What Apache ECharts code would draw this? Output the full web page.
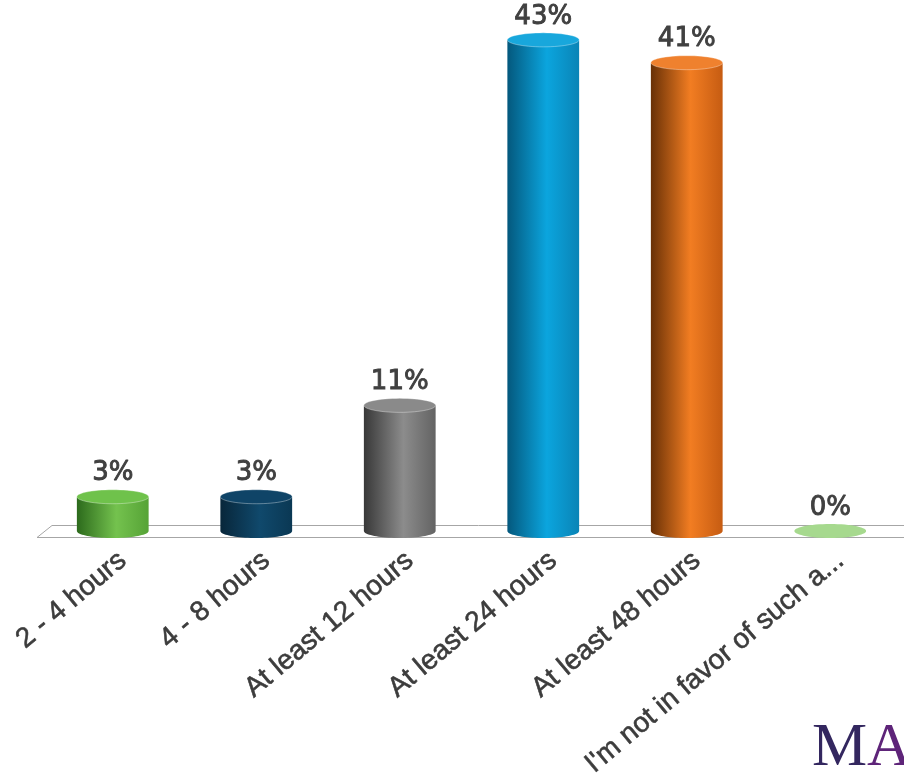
<!DOCTYPE html>
<html>
<head>
<meta charset="utf-8">
<script src="https://cdn.jsdelivr.net/npm/echarts@6/dist/echarts.min.js"></script>
<style>
  html, body { margin: 0; padding: 0; background: #fff; }
  #chart { width: 904px; height: 774px; }
</style>
</head>
<body>
<div id="chart"></div>
<script>
// Survey answers and their shares (percent)
const categories = ['2 - 4 hours', '4 - 8 hours', 'At least 12 hours', 'At least 24 hours', 'At least 48 hours', "I'm not in favor of such a..."];
const shares = [3, 3, 11, 43, 41, 0];

// Cylinder palettes: [dark edge, highlight, right shade, top cap]
const palettes = [
  ['#2c6a1c', '#74c24e', '#56a336', '#6fc24b'],
  ['#08263a', '#10496c', '#0a3854', '#0f4467'],
  ['#383838', '#8c8c8c', '#636363', '#8a8a8a'],
  ['#04587d', '#0ba5de', '#0a84b6', '#18a7dc'],
  ['#683006', '#f27d22', '#c65c12', '#ef812e'],
  ['#9fd487', '#a9da92', '#9fd487', '#a6d98e']
];

const LABEL_ANGLE = 40 * Math.PI / 180;

function ellipsePoints(cx, cy, rx, ry, from, to, n) {
  const pts = [];
  for (let i = 0; i <= n; i++) {
    const a = from + (to - from) * i / n;
    pts.push([cx + rx * Math.cos(a), cy + ry * Math.sin(a)]);
  }
  return pts;
}

function renderCylinder(params, api) {
  const idx = api.value(0);
  const val = api.value(1);
  const basePt = api.coord([idx, 0]);
  const topPt = api.coord([idx, val]);
  const cx = basePt[0];
  const base = basePt[1];
  const top = topPt[1];
  const w = api.size([1, 0])[0] * 0.5;
  const rx = w / 2;
  const ry = 7;
  const p = palettes[params.dataIndex];
  const children = [];

  if (val > 0) {
    // body: sides plus the lower half of the base ellipse
    const body = [[cx - rx, top]];
    ellipsePoints(cx, base, rx, ry, Math.PI, 0, 40).forEach(function (pt) { body.push(pt); });
    body.push([cx + rx, top]);
    children.push({
      type: 'polygon',
      shape: { points: body },
      style: {
        fill: {
          type: 'linear', x: 0, y: 0, x2: 1, y2: 0,
          colorStops: [
            { offset: 0, color: p[0] },
            { offset: 0.55, color: p[1] },
            { offset: 1, color: p[2] }
          ]
        }
      }
    });
  }
  // top cap
  children.push({
    type: 'polygon',
    shape: { points: ellipsePoints(cx, top, rx, ry, 0, Math.PI * 2, 60) },
    style: {
      fill: p[3],
      stroke: val > 0 ? 'rgba(255,255,255,0.35)' : null,
      lineWidth: 1
    }
  });
  // value label
  children.push({
    type: 'text',
    style: {
      x: cx,
      y: top - ry - 3,
      text: val + '%',
      fill: '#404040',
      stroke: '#404040',
      lineWidth: 0.9,
      font: '26px "DejaVu Sans"',
      align: 'center',
      verticalAlign: 'bottom'
    }
  });
  // slanted category name under the floor
  children.push({
    type: 'text',
    x: cx + 10,
    y: base + 26,
    rotation: LABEL_ANGLE,
    style: {
      x: 0,
      y: 0,
      text: categories[params.dataIndex],
      fill: '#3c3c3c',
      stroke: '#3c3c3c',
      lineWidth: 0.6,
      font: '28px "Liberation Sans", Arial, sans-serif',
      align: 'right',
      verticalAlign: 'middle'
    }
  });
  return { type: 'group', children: children };
}

// 3D floor under the bars
function renderFloor(params, api) {
  const cs = params.coordSys;
  const base = api.coord([0, 0])[1];
  const right = cs.x + cs.width + 10;
  const front = base + 6.5;
  const back = base - 5.5;
  return {
    type: 'polyline',
    shape: { points: [[right, back], [cs.x + 11, back], [cs.x - 4, front], [right, front]] },
    style: { stroke: '#a6a6a6', lineWidth: 1, fill: null }
  };
}

const chart = echarts.init(document.getElementById('chart'));
chart.setOption({
  animation: false,
  grid: { left: 41, right: 2, top: 17, bottom: 243 },
  xAxis: {
    type: 'category',
    data: categories,
    axisLine: { show: false },
    axisTick: { show: false },
    axisLabel: { show: false }
  },
  yAxis: {
    type: 'value',
    min: 0,
    max: 45,
    show: false,
    splitLine: { show: false }
  },
  graphic: [
    {
      type: 'text',
      left: 812,
      top: 718,
      style: {
        text: 'M',
        font: '62px "Liberation Serif", "DejaVu Serif", serif',
        fill: '#33275f'
      }
    },
    {
      type: 'text',
      left: 867,
      top: 718,
      style: {
        text: 'A',
        font: '62px "Liberation Serif", "DejaVu Serif", serif',
        fill: '#5e2479'
      }
    }
  ],
  series: [
    {
      type: 'custom',
      z: 1,
      renderItem: renderFloor,
      data: [[0, 0]],
      silent: true
    },
    {
      type: 'custom',
      z: 2,
      renderItem: renderCylinder,
      encode: { x: 0, y: 1 },
      data: shares.map(function (v, i) { return [i, v]; })
    }
  ]
});
</script>
</body>
</html>
